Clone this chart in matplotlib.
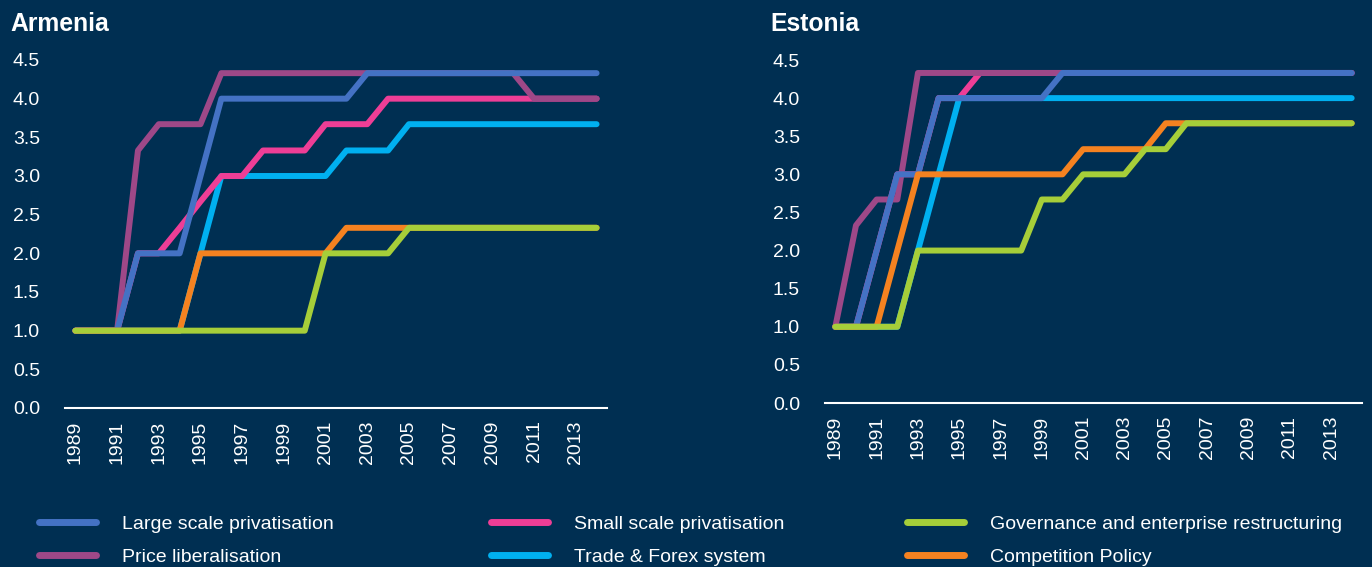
import matplotlib
matplotlib.use("Agg")
import matplotlib.pyplot as plt

plt.rcParams['font.family'] = ['Liberation Sans', 'DejaVu Sans']

years = list(range(1989, 2015))
tick_years = list(range(1989, 2014, 2))
y_ticks = [0.0, 0.5, 1.0, 1.5, 2.0, 2.5, 3.0, 3.5, 4.0, 4.5]

# Armenia
arm_large = [1, 1, 1, 2, 2, 2, 3, 4, 4, 4, 4, 4, 4, 4, 4.33, 4.33, 4.33, 4.33, 4.33, 4.33, 4.33, 4.33, 4.33, 4.33, 4.33, 4.33]
arm_small = [1, 1, 1, 2, 2, 2.33, 2.67, 3, 3, 3.33, 3.33, 3.33, 3.67, 3.67, 3.67, 4, 4, 4, 4, 4, 4, 4, 4, 4, 4, 4]
arm_gov = [1, 1, 1, 1, 1, 1, 1, 1, 1, 1, 1, 1, 2, 2, 2, 2, 2.33, 2.33, 2.33, 2.33, 2.33, 2.33, 2.33, 2.33, 2.33, 2.33]
arm_price = [1, 1, 1, 3.33, 3.67, 3.67, 3.67, 4.33, 4.33, 4.33, 4.33, 4.33, 4.33, 4.33, 4.33, 4.33, 4.33, 4.33, 4.33, 4.33, 4.33, 4.33, 4, 4, 4, 4]
arm_trade = [1, 1, 1, 1, 1, 1, 2, 3, 3, 3, 3, 3, 3, 3.33, 3.33, 3.33, 3.67, 3.67, 3.67, 3.67, 3.67, 3.67, 3.67, 3.67, 3.67, 3.67]
arm_comp = [1, 1, 1, 1, 1, 1, 2, 2, 2, 2, 2, 2, 2, 2.33, 2.33, 2.33, 2.33, 2.33, 2.33, 2.33, 2.33, 2.33, 2.33, 2.33, 2.33, 2.33]

# Estonia
est_large = [1, 1, 2, 3, 3, 4, 4, 4, 4, 4, 4, 4.33, 4.33, 4.33, 4.33, 4.33, 4.33, 4.33, 4.33, 4.33, 4.33, 4.33, 4.33, 4.33, 4.33, 4.33]
est_small = [1, 1, 2, 3, 3, 4, 4, 4.33, 4.33, 4.33, 4.33, 4.33, 4.33, 4.33, 4.33, 4.33, 4.33, 4.33, 4.33, 4.33, 4.33, 4.33, 4.33, 4.33, 4.33, 4.33]
est_gov = [1, 1, 1, 1, 2, 2, 2, 2, 2, 2, 2.67, 2.67, 3, 3, 3, 3.33, 3.33, 3.67, 3.67, 3.67, 3.67, 3.67, 3.67, 3.67, 3.67, 3.67]
est_price = [1, 2.33, 2.67, 2.67, 4.33, 4.33, 4.33, 4.33, 4.33, 4.33, 4.33, 4.33, 4.33, 4.33, 4.33, 4.33, 4.33, 4.33, 4.33, 4.33, 4.33, 4.33, 4.33, 4.33, 4.33, 4.33]
est_trade = [1, 1, 1, 1, 2, 3, 4, 4, 4, 4, 4, 4, 4, 4, 4, 4, 4, 4, 4, 4, 4, 4, 4, 4, 4, 4]
est_comp = [1, 1, 1, 2, 3, 3, 3, 3, 3, 3, 3, 3, 3.33, 3.33, 3.33, 3.33, 3.67, 3.67, 3.67, 3.67, 3.67, 3.67, 3.67, 3.67, 3.67, 3.67]

labels = {
    'large': 'Large scale privatisation',
    'small': 'Small scale privatisation',
    'gov': 'Governance and enterprise restructuring',
    'price': 'Price liberalisation',
    'trade': 'Trade & Forex system',
    'comp': 'Competition Policy',
}
colors = {
    'large': '#4472C4',
    'small': '#EE3E96',
    'gov': '#A6CE39',
    'price': '#9E4888',
    'trade': '#00B0F0',
    'comp': '#F58220',
}
zorders = {'trade': 2, 'small': 3, 'price': 4, 'large': 5, 'comp': 6, 'gov': 7}

BG = '#002F52'
fig = plt.figure(figsize=(13.72, 5.67), dpi=100, facecolor=BG)

W, H = 1372, 567
def axrect(l, r, top, bottom):
    return [l / W, 1 - bottom / H, (r - l) / W, (bottom - top) / H]

ax1 = fig.add_axes(axrect(65, 607, 60, 408))
ax2 = fig.add_axes(axrect(825, 1362, 60, 403))

datasets = [
    (ax1, {'large': arm_large, 'small': arm_small, 'gov': arm_gov,
           'price': arm_price, 'trade': arm_trade, 'comp': arm_comp}),
    (ax2, {'large': est_large, 'small': est_small, 'gov': est_gov,
           'price': est_price, 'trade': est_trade, 'comp': est_comp}),
]

for ax, data in datasets:
    ax.set_facecolor(BG)
    for key, vals in data.items():
        ax.plot(years, vals, color=colors[key], lw=4.3, zorder=zorders[key],
                solid_capstyle='round', solid_joinstyle='round', label=labels[key])
    ax.set_xlim(1988.5, 2014.5)
    ax.set_ylim(0, 4.5)
    ax.set_yticks(y_ticks)
    ax.set_yticklabels([f'{v:.1f}' for v in y_ticks])
    ax.set_xticks(tick_years)
    ax.set_xticklabels([str(y) for y in tick_years], rotation=90)
    for s in ['top', 'right', 'left']:
        ax.spines[s].set_visible(False)
    ax.spines['bottom'].set_color('#FFFFFF')
    ax.spines['bottom'].set_linewidth(1.5)
    ax.spines['bottom'].set_zorder(1)
    ax.tick_params(axis='both', length=0, colors='#FFFFFF', labelsize=14)
    ax.tick_params(axis='y', pad=18)
    ax.tick_params(axis='x', pad=9)

fig.text(10 / W, 1 - 24 / H, 'Armenia', color='white', fontsize=17.8, fontweight='bold', va='center', ha='left')
fig.text(770 / W, 1 - 24 / H, 'Estonia', color='white', fontsize=17.8, fontweight='bold', va='center', ha='left')

cols = [(['large', 'price'], 38.5), (['small', 'trade'], 490.5), (['gov', 'comp'], 906.5)]
for keys, xpx in cols:
    hs = []
    for k in keys:
        h, = ax1.plot([], [], color=colors[k], lw=5, solid_capstyle='round', label=labels[k])
        hs.append(h)
    leg = fig.legend(hs, [labels[k] for k in keys], loc='upper left',
                     bbox_to_anchor=(xpx / W, 1 - 515.5 / H), frameon=False,
                     fontsize=14, handlelength=2.98, handletextpad=1.29,
                     labelspacing=0.77, borderpad=0, borderaxespad=0)
    for t in leg.get_texts():
        t.set_color('white')

fig.savefig('out.png', dpi=100, facecolor=BG)
